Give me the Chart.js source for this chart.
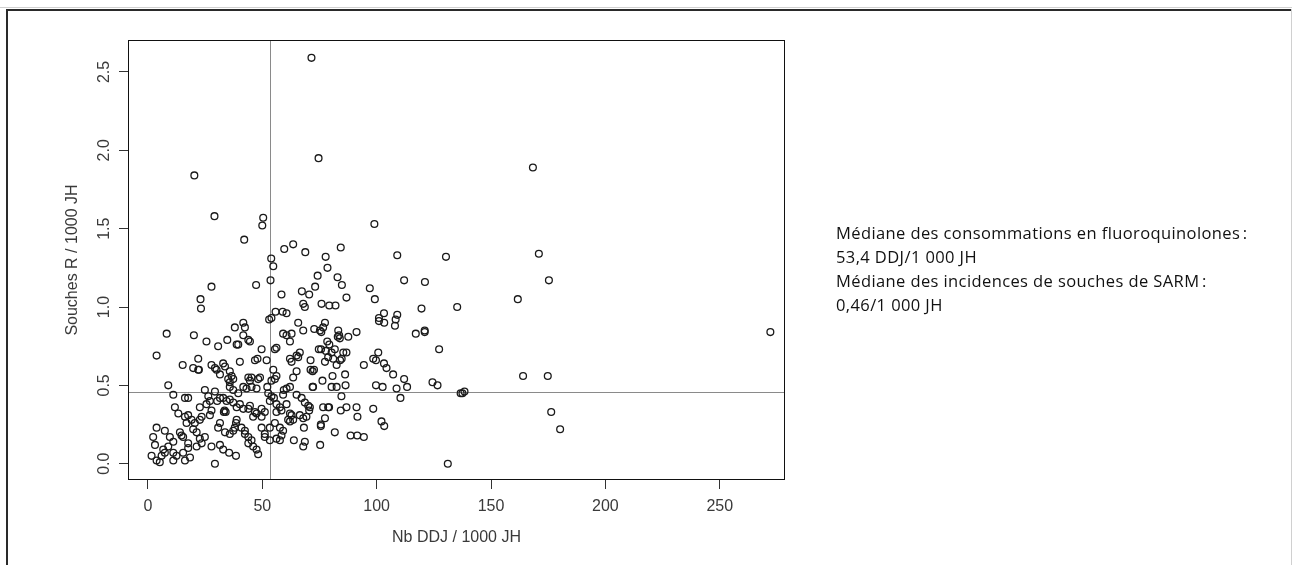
<!DOCTYPE html>
<html><head><meta charset="utf-8">
<script src="https://cdn.jsdelivr.net/npm/chart.js@4.4.1/dist/chart.umd.min.js"></script>
<style>
html,body{margin:0;padding:0;background:#fff;}
#wrap{position:relative;width:1292px;height:565px;overflow:hidden;background:#fff;}
#c{position:absolute;left:0;top:0;}
#note{position:absolute;left:836px;top:221px;font-family:"Open Sans",sans-serif;font-size:16.5px;letter-spacing:0.4px;line-height:24px;color:#111;white-space:nowrap;}
</style></head><body>
<div id="wrap"><canvas id="c" width="1292" height="565"></canvas>
<div id="note">Médiane des consommations en fluoroquinolones&#8239;:<br>53,4 DDJ/1 000 JH<br>Médiane des incidences de souches de SARM&#8239;:<br>0,46/1 000 JH</div></div>
<script>
// Nb DDJ / 1000 JH (x) and Souches R / 1000 JH (y), one entry per establishment
const ddj = [
20.3,29.1,50.4,50.0,42.1,59.6,63.5,53.9,54.8,53.6,47.3,27.8,
74.6,99.0,68.8,84.3,77.7,78.5,74.2,82.9,84.8,73.1,109.0,130.3,112.0,121.1,97.0,67.3,
71.5,
168.3,170.9,175.3,161.7,135.2,272.1,164.0,174.8,136.7,137.5,138.4,176.3,180.2,131.1,
70.5,86.8,99.2,67.9,68.6,75.9,79.3,82.0,119.6,103.2,101.0,101.0,103.3,109.0,108.3,108.0,
65.7,77.4,76.6,75.2,75.8,72.7,67.9,83.2,83.6,83.0,83.9,87.6,91.2,117.1,121.0,121.0,127.3,
74.7,75.7,78.4,79.3,77.8,81.7,80.3,85.4,86.8,84.7,84.0,81.0,78.8,77.4,82.5,66.4,65.0,65.7,
71.1,100.7,98.5,99.7,103.2,104.3,94.4,107.2,112.0,113.3,124.4,126.6,86.2,80.7,76.3,
71.1,72.0,72.6,65.0,63.5,72.0,72.2,80.3,82.5,86.4,99.7,102.6,108.7,84.6,110.4,
65.0,67.2,68.6,70.1,70.8,70.5,69.3,67.9,66.4,63.5,62.8,68.2,63.8,68.6,67.9,75.6,75.6,77.4,
76.6,78.8,79.2,84.3,86.8,91.2,91.6,98.5,102.1,103.3,81.7,88.6,91.5,94.4,75.3,
62.8,62.1,62.1,62.8,62.1,62.1,
23.0,23.2,58.4,55.8,58.9,60.6,53.0,54.0,41.7,38.0,42.4,41.7,43.9,44.6,8.2,20.1,25.6,34.7,30.7,
38.8,39.5,49.7,56.2,55.5,59.1,60.6,3.8,15.2,19.8,22.0,22.3,22.0,27.8,29.3,30.0,31.5,32.9,33.7,
35.8,36.6,37.3,35.1,35.8,40.2,43.9,45.3,44.6,46.8,47.9,51.9,49.0,48.2,54.8,56.2,55.5,54.0,52.2,
60.6,59.4,59.1,8.9,11.1,16.2,17.6,24.9,26.4,29.3,22.7,25.6,27.1,30.3,31.5,32.9,34.4,35.8,37.3,
33.5,33.2,34.0,35.8,37.3,39.5,41.7,43.1,45.3,47.5,38.8,40.2,41.7,43.9,44.6,46.8,47.5,46.0,
49.7,51.1,49.7,52.6,54.0,53.3,55.1,56.2,57.7,56.2,58.4,60.6,62.1,61.3,11.8,13.3,16.2,17.6,16.9,
19.1,20.5,22.7,23.5,27.1,27.8,31.5,30.7,33.7,35.8,37.3,38.0,38.8,38.5,42.4,43.9,45.3,43.9,46.0,
47.5,48.2,40.9,42.4,49.7,51.1,51.1,53.3,56.2,57.7,58.4,53.3,55.5,57.7,59.1,3.8,2.3,3.1,1.6,
7.4,9.6,11.1,6.7,7.4,6.0,3.8,5.2,8.9,11.1,12.5,11.1,14.7,15.4,14.0,17.6,15.4,16.2,18.4,17.6,
19.8,21.3,22.7,24.9,27.8,31.5,32.9,35.5,38.5,29.3,21.3,23.5
];
const souchesR = [
1.84,1.58,1.57,1.52,1.43,1.37,1.40,1.31,1.26,1.17,1.14,1.13,
1.95,1.53,1.35,1.38,1.32,1.25,1.20,1.19,1.14,1.13,1.33,1.32,1.17,1.16,1.12,1.10,
2.59,
1.89,1.34,1.17,1.05,1.00,0.84,0.56,0.56,0.45,0.45,0.46,0.33,0.22,0.00,
1.08,1.06,1.05,1.02,1.00,1.02,1.01,1.01,0.99,0.96,0.91,0.93,0.90,0.95,0.92,0.88,
0.90,0.90,0.87,0.85,0.84,0.86,0.85,0.85,0.82,0.81,0.80,0.81,0.84,0.83,0.85,0.84,0.73,
0.73,0.73,0.78,0.76,0.72,0.73,0.71,0.71,0.71,0.67,0.66,0.67,0.68,0.65,0.63,0.71,0.69,0.68,
0.66,0.71,0.67,0.66,0.64,0.61,0.63,0.57,0.54,0.49,0.52,0.50,0.57,0.56,0.53,
0.60,0.59,0.60,0.59,0.55,0.49,0.49,0.49,0.49,0.50,0.50,0.49,0.48,0.43,0.42,
0.44,0.42,0.39,0.37,0.36,0.34,0.30,0.29,0.31,0.28,0.31,0.23,0.15,0.14,0.11,0.25,0.24,0.29,
0.36,0.36,0.36,0.34,0.36,0.36,0.30,0.35,0.27,0.24,0.20,0.18,0.18,0.17,0.12,
0.83,0.78,0.67,0.65,0.49,0.27,
1.05,0.99,1.08,0.97,0.97,0.96,0.92,0.93,0.90,0.87,0.87,0.82,0.79,0.78,0.83,0.82,0.78,0.79,0.75,
0.76,0.76,0.73,0.74,0.73,0.83,0.82,0.69,0.63,0.61,0.60,0.60,0.67,0.63,0.61,0.60,0.57,0.64,0.62,
0.59,0.56,0.54,0.54,0.52,0.65,0.55,0.55,0.53,0.66,0.67,0.66,0.55,0.54,0.60,0.56,0.54,0.53,0.49,
0.48,0.47,0.44,0.50,0.44,0.42,0.42,0.47,0.43,0.46,0.36,0.38,0.40,0.40,0.42,0.42,0.40,0.41,0.39,
0.34,0.33,0.33,0.49,0.47,0.45,0.49,0.48,0.49,0.48,0.36,0.38,0.35,0.35,0.37,0.33,0.32,0.30,
0.35,0.33,0.30,0.45,0.43,0.40,0.42,0.38,0.36,0.33,0.34,0.38,0.32,0.28,0.36,0.32,0.30,0.31,0.26,
0.28,0.26,0.28,0.30,0.31,0.34,0.26,0.23,0.20,0.19,0.21,0.23,0.28,0.26,0.19,0.17,0.15,0.13,0.11,
0.09,0.06,0.23,0.21,0.23,0.19,0.17,0.15,0.16,0.15,0.18,0.23,0.26,0.23,0.21,0.23,0.17,0.12,0.05,
0.21,0.17,0.14,0.09,0.07,0.05,0.02,0.01,0.11,0.07,0.05,0.02,0.18,0.17,0.20,0.13,0.07,0.02,0.04,0.10,
0.22,0.20,0.16,0.17,0.11,0.12,0.09,0.07,0.05,0.00,0.11,0.13
];
const xTicks = [0, 50, 100, 150, 200, 250];
const yTicks = [0, 0.5, 1.0, 1.5, 2.0, 2.5];
const yTickLabels = ["0.0", "0.5", "1.0", "1.5", "2.0", "2.5"];
const medianDDJ = 53.4;
const medianSARM = 0.46;
const xTitle = "Nb DDJ / 1000 JH";
const yTitle = "Souches R / 1000 JH";

const axisFont = {family: "'Liberation Sans', Arial, sans-serif", size: 16};
const axisColor = '#3a3a3a';

const points = ddj.map((x, i) => ({x: x, y: souchesR[i]}));

const decor = {
  id: 'decor',
  beforeDraw(chart) {
    const c = chart.ctx;
    c.save();
    c.fillStyle = '#fff';
    c.fillRect(0, 0, chart.width, chart.height);
    c.restore();
  },
  beforeDatasetsDraw(chart) {
    const c = chart.ctx, a = chart.chartArea;
    const xs = chart.scales.x, ys = chart.scales.y;
    c.save();
    c.strokeStyle = '#8a8a8a';
    c.lineWidth = 1;
    const vx = Math.round(xs.getPixelForValue(medianDDJ)) + 0.5;
    const hy = Math.round(ys.getPixelForValue(medianSARM)) + 0.5;
    c.beginPath();
    c.moveTo(vx, a.top); c.lineTo(vx, a.bottom);
    c.moveTo(a.left, hy); c.lineTo(a.right, hy);
    c.stroke();
    c.restore();
  },
  afterDraw(chart) {
    const c = chart.ctx, a = chart.chartArea;
    const ys = chart.scales.y;
    c.save();
    c.strokeStyle = '#111';
    c.lineWidth = 1;
    c.strokeRect(Math.round(a.left) + 0.5, Math.round(a.top) + 0.5,
                 Math.round(a.right - a.left) - 1, Math.round(a.bottom - a.top) - 1);
    c.fillStyle = axisColor;
    c.font = axisFont.size + 'px ' + axisFont.family;
    c.textAlign = 'center';
    c.textBaseline = 'middle';
    yTicks.forEach((v, i) => {
      const py = ys.getPixelForValue(v);
      c.save();
      c.translate(105, py);
      c.rotate(-Math.PI / 2);
      c.fillText(yTickLabels[i], 0, 0);
      c.restore();
    });
    c.fillStyle = '#d0d0d0';
    c.fillRect(0, 7, chart.width, 1);
    c.fillRect(chart.width - 1, 9, 1, chart.height - 9);
    c.fillStyle = '#2a2a2a';
    c.fillRect(6, 9, chart.width - 7, 2);
    c.fillRect(6, 9, 2, chart.height - 9);
    c.restore();
  }
};

new Chart(document.getElementById('c'), {
  type: 'scatter',
  data: {datasets: [{
    data: points,
    pointStyle: 'circle',
    pointRadius: 3.4,
    pointBorderWidth: 1.3,
    pointBorderColor: '#1a1a1a',
    pointBackgroundColor: 'rgba(0,0,0,0)'
  }]},
  options: {
    responsive: false,
    animation: false,
    devicePixelRatio: 1,
    layout: {padding: {left: 0, top: 40, right: 507, bottom: 0}},
    plugins: {legend: {display: false}, tooltip: {enabled: false}},
    scales: {
      x: {
        type: 'linear', min: -8.7, max: 278.5,
        afterBuildTicks: s => { s.ticks = xTicks.map(v => ({value: v})); },
        afterFit: s => { s.height = 85; },
        border: {display: false},
        grid: {drawOnChartArea: false, drawTicks: true, tickLength: 9, color: '#333', lineWidth: 1},
        ticks: {color: axisColor, font: axisFont, padding: 8, maxRotation: 0, minRotation: 0, autoSkip: false,
                callback: v => String(v)},
        title: {display: true, text: xTitle, color: axisColor, font: axisFont, padding: {top: 0, bottom: 18}}
      },
      y: {
        type: 'linear', min: -0.104, max: 2.704,
        afterBuildTicks: s => { s.ticks = yTicks.map(v => ({value: v})); },
        afterFit: s => { s.width = 128; },
        border: {display: false},
        grid: {drawOnChartArea: false, drawTicks: true, tickLength: 9, color: '#333', lineWidth: 1},
        ticks: {display: false},
        title: {display: true, text: yTitle, color: axisColor, font: axisFont, padding: {top: 63, bottom: 0}}
      }
    }
  },
  plugins: [decor]
});
</script>
</body></html>
